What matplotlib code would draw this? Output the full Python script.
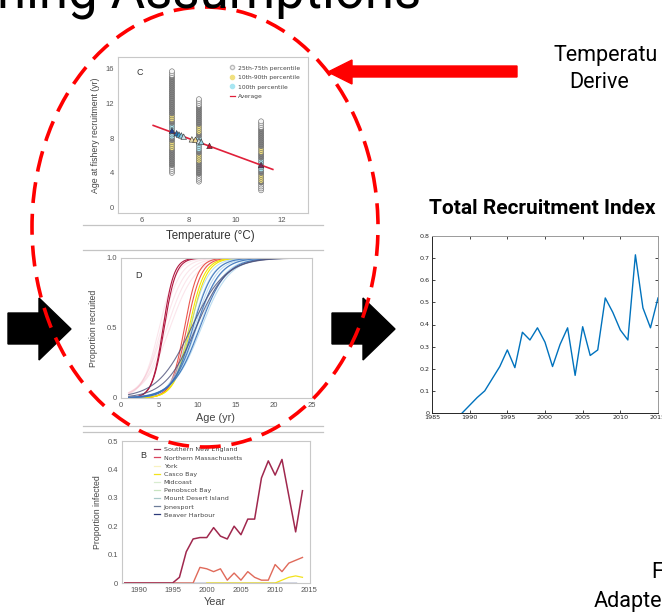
import numpy as np
import matplotlib
matplotlib.use("Agg")
import matplotlib.pyplot as plt
from matplotlib.patches import Ellipse, Polygon
from matplotlib.lines import Line2D

W, H = 662, 615

# ---- panel C: age at fishery recruitment vs temperature ----
c_temp = [7.3, 8.45, 11.1]
c_low = [4.0, 3.0, 2.0]
c_high = [15.8, 12.5, 10.0]
c_mid = [8.8, 7.4, 5.0]
tri_temp = [7.3, 7.5, 7.6, 7.7, 7.8, 8.15, 8.3, 8.45, 8.55, 8.9, 11.1]
tri_age = [8.85, 8.55, 8.4, 8.3, 8.15, 7.85, 7.8, 7.65, 7.55, 7.1, 4.9]
tri_color = ["#1f3f8f", "#2a6fb0", "#3aa0d0", "#86c8e0", "#c8e0e8", "#e8e0b0",
             "#f0d890", "#d8e8f0", "#8fd0e0", "#d01030", "#7a2a5a"]
avg_temp = [6.5, 11.6]
avg_age = [9.45, 4.4]

# ---- panel D: selectivity curves (age at 50%, slope) ----
d_groups = [
    ("#f5b8c8", [5.0, 5.3, 5.6, 6.0, 6.4], [0.9, 0.8, 0.7, 0.65, 0.6], 0.35),
    ("#b0173f", [5.5, 5.65], [1.4, 1.3], 1.0),
    ("#e8443a", [8.3, 8.6], [1.15, 1.05], 0.9),
    ("#f2e600", [8.9, 9.1], [1.0, 0.95], 1.0),
    ("#8fc8e8", [9.0, 9.3, 9.6, 9.9, 10.2, 10.5], [0.8, 0.75, 0.7, 0.65, 0.6, 0.55], 0.6),
    ("#3a6fb8", [9.4, 9.8, 10.3], [0.75, 0.65, 0.58], 0.9),
    ("#4a4e78", [9.2, 9.8], [0.45, 0.5], 0.8),
]

# ---- panel B: proportion infected ----
b_years = [1988, 1989, 1990, 1991, 1992, 1993, 1994, 1995, 1996, 1997, 1998, 1999, 2000,
           2001, 2002, 2003, 2004, 2005, 2006, 2007, 2008, 2009, 2010, 2011, 2013, 2014]
b_sne = [0, 0, 0, 0, 0, 0, 0, 0, 0.02, 0.11, 0.155, 0.16, 0.16, 0.195, 0.165, 0.155,
         0.2, 0.17, 0.225, 0.225, 0.37, 0.43, 0.38, 0.435, 0.18, 0.325]
b_nm_years = [1988, 1998, 1999, 2000, 2001, 2002, 2003, 2004, 2005, 2006, 2007, 2008,
              2009, 2010, 2011, 2012, 2013, 2014]
b_nm = [0, 0, 0.055, 0.05, 0.04, 0.05, 0.01, 0.035, 0.01, 0.04, 0.02, 0.01, 0.01,
        0.065, 0.04, 0.07, 0.08, 0.09]
b_casco_years = [2000, 2010, 2011, 2012, 2013, 2014]
b_casco = [0, 0, 0.01, 0.02, 0.025, 0.02]
b_base_years = [1988, 2013]
b_base = [0, 0]
b_labels = ["Southern New England", "Northern Massachusetts", "York", "Casco Bay",
            "Midcoast", "Penobscot Bay", "Mount Desert Island", "Jonesport", "Beaver Harbour"]
b_colors = ["#a0284e", "#d9455f", "#f8f2c0", "#f2e21c", "#d8ecd0", "#c8e4c0",
            "#a8c8c8", "#6c7c98", "#2b3a7a"]

# ---- right: total recruitment index ----
r_years = list(range(1989, 2016))
r_index = [0, 0.035, 0.07, 0.1, 0.155, 0.21, 0.285, 0.205, 0.365, 0.33, 0.385, 0.32,
           0.21, 0.31, 0.385, 0.17, 0.39, 0.26, 0.285, 0.52, 0.455, 0.375, 0.33, 0.715,
           0.475, 0.385, 0.52]

fig = plt.figure(figsize=(W / 100, H / 100), dpi=100)
fig.patch.set_facecolor("white")


def ax_px(l, t, r, b):
    return fig.add_axes([l / W, 1 - b / H, (r - l) / W, (b - t) / H])


def style_panel(ax):
    for s in ax.spines.values():
        s.set_color("#c8c8c8")
        s.set_linewidth(0.8)
    ax.tick_params(length=0, labelsize=5.5, colors="#555555", pad=3)


PANEL_FONT = "Liberation Sans"
SLIDE_FONT = "Roboto"

# panel C
axC = ax_px(118, 57, 308, 213)
style_panel(axC)
for t, lo, hi, mid in zip(c_temp, c_low, c_high, c_mid):
    ys = np.arange(lo, hi + 0.01, 0.22)
    d = np.abs(ys - mid)
    face = np.where(d < 0.7, "#a8e6f2",
                    np.where((d > 1.2) & (d < 2.0), "#f0e080", "#858585"))
    face = np.where((ys < lo + 0.8) | (ys > hi - 0.8), "#f4f4f4", face)
    axC.scatter(np.full_like(ys, t), ys, s=13, c=face, edgecolors="#6a6a6a",
                linewidths=0.4, zorder=2)
axC.plot(avg_temp, avg_age, color="#e0203a", lw=1.2, zorder=3)
axC.scatter(tri_temp, tri_age, s=16, marker="^", c=tri_color, edgecolors="#333333",
            linewidths=0.4, zorder=4)
axC.set_xlim(5, 13.1)
axC.set_ylim(-0.6, 17.3)
axC.set_xticks([6, 8, 10, 12])
axC.set_yticks([0, 4, 8, 12, 16])
axC.set_ylabel("Age at fishery recruitment (yr)", fontsize=6.3, color="#444444",
               family=PANEL_FONT, labelpad=4)
axC.text(5.8, 15.2, "C", fontsize=6.5, color="#333333", family=PANEL_FONT)
handles = [Line2D([], [], marker="o", ls="none", mfc="#f4f4f4", mec="#bbbbbb", ms=3),
           Line2D([], [], marker="o", ls="none", mfc="#f0e080", mec="#f0e080", ms=3),
           Line2D([], [], marker="o", ls="none", mfc="#a8e6f2", mec="#a8e6f2", ms=3),
           Line2D([], [], color="#e0203a", lw=0.9)]
axC.legend(handles, ["25th-75th percentile", "10th-90th percentile", "100th percentile",
                     "Average"], loc="upper right", fontsize=4.3, frameon=False,
           handlelength=0.9, handletextpad=0.4, labelspacing=0.72, borderaxespad=1.0,
           labelcolor="#444444")

# panel D
axD = ax_px(121, 258, 312, 398)
style_panel(axD)
ages = np.linspace(1, 25, 300)
for color, a50s, ks, alpha in d_groups:
    for a50, k in zip(a50s, ks):
        axD.plot(ages, 1 / (1 + np.exp(-k * (ages - a50))), color=color, lw=0.8,
                 alpha=alpha)
axD.set_xlim(0, 25)
axD.set_ylim(0, 1.0)
axD.set_xticks([0, 5, 10, 15, 20, 25])
axD.set_yticks([0, 0.5, 1.0])
axD.set_yticklabels(["0", "0.5", "1.0"])
axD.set_ylabel("Proportion recruited", fontsize=6.3, color="#444444", family=PANEL_FONT,
               labelpad=6)
axD.text(1.9, 0.86, "D", fontsize=6.5, color="#333333", family=PANEL_FONT)

# panel B
axB = ax_px(122, 441, 310, 583)
style_panel(axB)
axB.plot(b_base_years, b_base, color=b_colors[8], lw=1.0)
axB.plot(b_casco_years, b_casco, color=b_colors[3], lw=0.9)
axB.plot(b_nm_years, b_nm, color="#e06a5a", lw=1.0)
axB.plot(b_years, b_sne, color=b_colors[0], lw=1.1)
axB.set_xlim(1987.6, 2015.1)
axB.set_ylim(0, 0.5)
axB.set_xticks([1990, 1995, 2000, 2005, 2010, 2015])
axB.set_yticks([0, 0.1, 0.2, 0.3, 0.4, 0.5])
axB.set_yticklabels(["0", "0.1", "0.2", "0.3", "0.4", "0.5"])
axB.set_ylabel("Proportion infected", fontsize=6.3, color="#444444", family=PANEL_FONT,
               labelpad=4)
axB.text(1990.3, 0.44, "B", fontsize=6.5, color="#333333", family=PANEL_FONT)
bh = [Line2D([], [], color=c, lw=0.9) for c in b_colors]
legB = axB.legend(bh, b_labels, loc="upper left", bbox_to_anchor=(0.15, 0.985),
                  fontsize=4.6, frameon=True, handlelength=1.0, handletextpad=0.5,
                  labelspacing=0.42, borderpad=0.1, labelcolor="#444444")
legB.get_frame().set_edgecolor("none")
legB.get_frame().set_alpha(0.85)

for ax in (axC, axD, axB):
    for lab in ax.get_xticklabels() + ax.get_yticklabels():
        lab.set_family(PANEL_FONT)

# right chart
axR = ax_px(432, 236, 658, 413)
axR.plot(r_years, r_index, color="#0072bd", lw=1.0)
axR.set_xlim(1985, 2015)
axR.set_ylim(0, 0.8)
axR.set_xticks(range(1985, 2016, 5))
axR.set_yticks([0, 0.1, 0.2, 0.3, 0.4, 0.5, 0.6, 0.7, 0.8])
axR.set_yticklabels(["0", "0.1", "0.2", "0.3", "0.4", "0.5", "0.6", "0.7", "0.8"])
axR.tick_params(direction="in", length=2, width=0.6, labelsize=4.6, colors="#262626",
                top=True, right=True, pad=1.5)
for name, s in axR.spines.items():
    s.set_linewidth(0.7)
    s.set_color("#262626" if name in ("left", "bottom") else "#9a9a9a")

# overlay: slide text, separators, arrows, dashed ellipse
ov = fig.add_axes([0, 0, 1, 1])
ov.set_xlim(0, W)
ov.set_ylim(H, 0)
ov.axis("off")
ov.set_zorder(10)

for y in (225, 250, 426, 432):
    ov.plot([83, 323], [y, y], color="#c4c4c4", lw=0.9)

ov.text(210, 236, "Temperature (°C)", fontsize=8.3, color="#333333", family=PANEL_FONT,
        ha="center", va="center")
ov.text(215, 418, "Age (yr)", fontsize=7.8, color="#444444", family=PANEL_FONT,
        ha="center", va="center")
ov.text(215, 602, "Year", fontsize=7.8, color="#444444", family=PANEL_FONT,
        ha="center", va="center")

ov.text(-3, 8, "ning Assumptions", fontsize=38, family=SLIDE_FONT, color="black",
        ha="left", va="baseline")
ov.text(542, 208, "Total Recruitment Index", fontsize=15, family=SLIDE_FONT,
        weight="bold", ha="center", va="center")
ov.text(553, 55, "Temperatu", fontsize=15.5, family=SLIDE_FONT, ha="left", va="center")
ov.text(569, 82, "Derive", fontsize=15.5, family=SLIDE_FONT, ha="left", va="center")
ov.text(651, 573, "F", fontsize=15.5, family=SLIDE_FONT, ha="left", va="center")
ov.text(594, 601, "Adapte", fontsize=15.5, family=SLIDE_FONT, ha="left", va="center")

for x0 in (8, 332):
    ov.add_patch(Polygon([(x0, 313), (x0 + 31, 313), (x0 + 31, 298), (x0 + 63, 329),
                          (x0 + 31, 360), (x0 + 31, 344), (x0, 344)],
                         closed=True, color="black", zorder=1))
ov.add_patch(Polygon([(517, 66), (352, 66), (352, 60), (328, 72), (352, 84), (352, 77),
                      (517, 77)], closed=True, color="#ff0000", zorder=1))
ov.add_patch(Ellipse((205, 227), 346, 440, fill=False, edgecolor="#ff0000", lw=2.6,
                     linestyle=(0, (5.8, 3.0)), zorder=2))

fig.savefig("out.png", dpi=100)
